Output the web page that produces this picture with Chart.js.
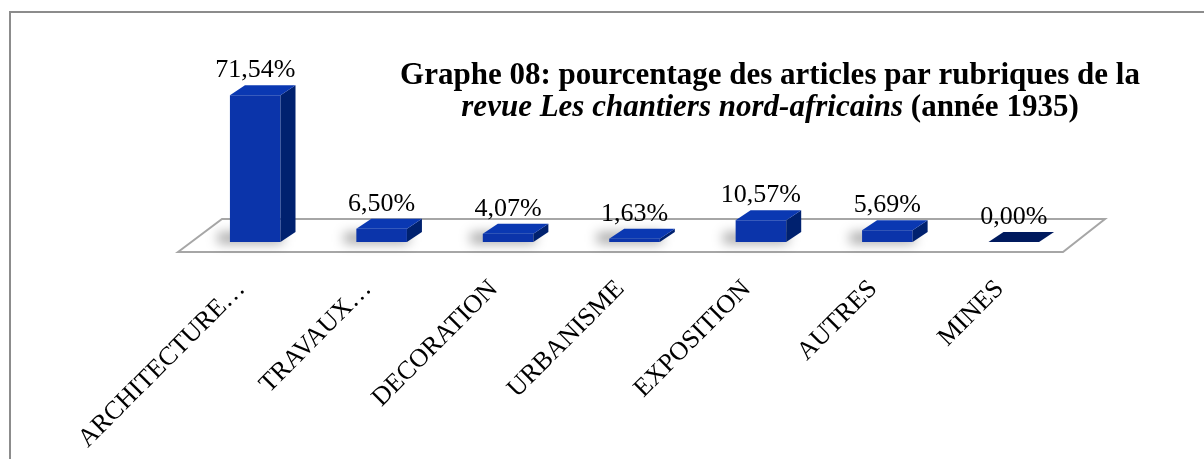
<!DOCTYPE html>
<html>
<head>
<meta charset="utf-8">
<script src="https://cdn.jsdelivr.net/npm/chart.js@4"></script>
<style>
	body { margin: 0; background: #fff; }
	#wrap { width: 1204px; height: 459px; position: relative; }
</style>
</head>
<body>
<div id="wrap"><canvas id="chart-rubriques"></canvas></div>
<script>
const categories = ['ARCHITECTURE…', 'TRAVAUX…', 'DECORATION', 'URBANISME', 'EXPOSITION', 'AUTRES', 'MINES'];
const percentages = [71.54, 6.50, 4.07, 1.63, 10.57, 5.69, 0.00];
const titleLine1 = 'Graphe 08: pourcentage des articles par rubriques de la';
const titleLine2Italic = 'revue Les chantiers nord-africains';
const titleLine2Rest = ' (année 1935)';

// depth of the fake 3d
const depthX = 15, depthY = 10;
const barShiftX = 14, barShiftY = -10;
const serif = '"Liberation Serif", "Times New Roman", serif';

function formatPct(v) {
	return v.toFixed(2).replace('.', ',') + '%';
}

function frontColor(c) {
	const bar = c.chart.getDatasetMeta(0).data[c.dataIndex];
	if (!bar || !Number.isFinite(bar.x) || !Number.isFinite(bar.width)) return '#0b34aa';
	const g = c.chart.ctx.createLinearGradient(bar.x - bar.width / 2, 0, bar.x + bar.width / 2, 0);
	g.addColorStop(0, '#0930a0');
	g.addColorStop(0.45, '#0c3bbd');
	g.addColorStop(1, '#0a33aa');
	return g;
}

const threeD = {
	id: 'threeD',
	beforeDatasetsDraw(chart) {
		const ctx = chart.ctx;
		const ca = chart.chartArea;

		// floor
		ctx.save();
		ctx.beginPath();
		ctx.moveTo(ca.left, ca.bottom);
		ctx.lineTo(ca.left + 44, ca.bottom - 33);
		ctx.lineTo(ca.right + 42, ca.bottom - 33);
		ctx.lineTo(ca.right, ca.bottom);
		ctx.closePath();
		ctx.fillStyle = '#ffffff';
		ctx.fill();
		ctx.strokeStyle = '#a6a6a6';
		ctx.lineWidth = 2;
		ctx.stroke();
		ctx.restore();

		ctx.save();
		ctx.translate(barShiftX, barShiftY);

		// soft shadows under the bars
		const meta = chart.getDatasetMeta(0);
		meta.data.forEach((bar, i) => {
			if (percentages[i] === 0) return;
			const x0 = bar.x - bar.width / 2;
			ctx.save();
			ctx.filter = 'blur(6px)';
			ctx.fillStyle = 'rgba(0,0,0,0.38)';
			ctx.fillRect(x0 - 12, bar.base - 9, bar.width + 14, 10);
			ctx.restore();
		});
	},
	afterDatasetsDraw(chart) {
		const ctx = chart.ctx;
		const meta = chart.getDatasetMeta(0);

		meta.data.forEach((bar, i) => {
			const x0 = bar.x - bar.width / 2;
			const x1 = bar.x + bar.width / 2;
			const top = bar.y;
			const bottom = bar.base;

			// side face
			if (bottom - top > 0.5) {
				ctx.beginPath();
				ctx.moveTo(x1, top);
				ctx.lineTo(x1 + depthX, top - depthY);
				ctx.lineTo(x1 + depthX, bottom - depthY);
				ctx.lineTo(x1, bottom);
				ctx.closePath();
				ctx.fillStyle = '#00216f';
				ctx.fill();
			}

			// top face
			ctx.beginPath();
			ctx.moveTo(x0, top);
			ctx.lineTo(x0 + depthX, top - depthY);
			ctx.lineTo(x1 + depthX, top - depthY);
			ctx.lineTo(x1, top);
			ctx.closePath();
			ctx.fillStyle = percentages[i] === 0 ? '#001a5e' : '#0a38b2';
			ctx.fill();

			// value label
			ctx.fillStyle = '#000';
			ctx.font = '26px ' + serif;
			ctx.textAlign = 'center';
			ctx.textBaseline = 'alphabetic';
			ctx.fillText(formatPct(percentages[i]), bar.x, top - 18);
		});

		ctx.restore();
	},
	afterDraw(chart) {
		const ctx = chart.ctx;
		ctx.save();

		// frame
		ctx.strokeStyle = '#8c8c8c';
		ctx.lineWidth = 2;
		ctx.beginPath();
		ctx.moveTo(10, 459);
		ctx.lineTo(10, 12);
		ctx.lineTo(1204, 12);
		ctx.stroke();

		// title
		ctx.fillStyle = '#000';
		ctx.textBaseline = 'alphabetic';
		ctx.textAlign = 'left';
		const cx = 770;
		ctx.font = 'bold 31px ' + serif;
		let w1 = ctx.measureText(titleLine1).width;
		ctx.fillText(titleLine1, cx - w1 / 2, 84);

		ctx.font = 'italic bold 31px ' + serif;
		let wi = ctx.measureText(titleLine2Italic).width;
		ctx.font = 'bold 31px ' + serif;
		let wr = ctx.measureText(titleLine2Rest).width;
		let start = cx - (wi + wr) / 2;
		ctx.font = 'italic bold 31px ' + serif;
		ctx.fillText(titleLine2Italic, start, 116);
		ctx.font = 'bold 31px ' + serif;
		ctx.fillText(titleLine2Rest, start + wi, 116);

		ctx.restore();
	}
};

let chartCtx = document.getElementById('chart-rubriques');
let rubriquesChart = new Chart(chartCtx, {
	type: 'bar',
	data: {
		labels: categories,
		datasets: [{
			label: 'Pourcentage des articles',
			data: percentages,
			backgroundColor: frontColor,
			borderWidth: 0,
			categoryPercentage: 1,
			barPercentage: 0.4
		}]
	},
	options: {
		responsive: true,
		maintainAspectRatio: false,
		animation: false,
		layout: {
			padding: { left: 178, right: 141, top: 88, bottom: 0 }
		},
		plugins: {
			legend: { display: false },
			tooltip: { enabled: false }
		},
		scales: {
			x: {
				grid: { display: false, drawTicks: false },
				border: { display: false },
				ticks: {
					autoSkip: false,
					maxRotation: 45,
					minRotation: 45,
					padding: 22,
					color: '#000',
					font: { family: serif, size: 26 }
				},
				afterFit: (scale) => { scale.height = 207; }
			},
			y: {
				display: false,
				min: 0,
				max: 80
			}
		}
	},
	plugins: [threeD]
});
</script>
</body>
</html>
